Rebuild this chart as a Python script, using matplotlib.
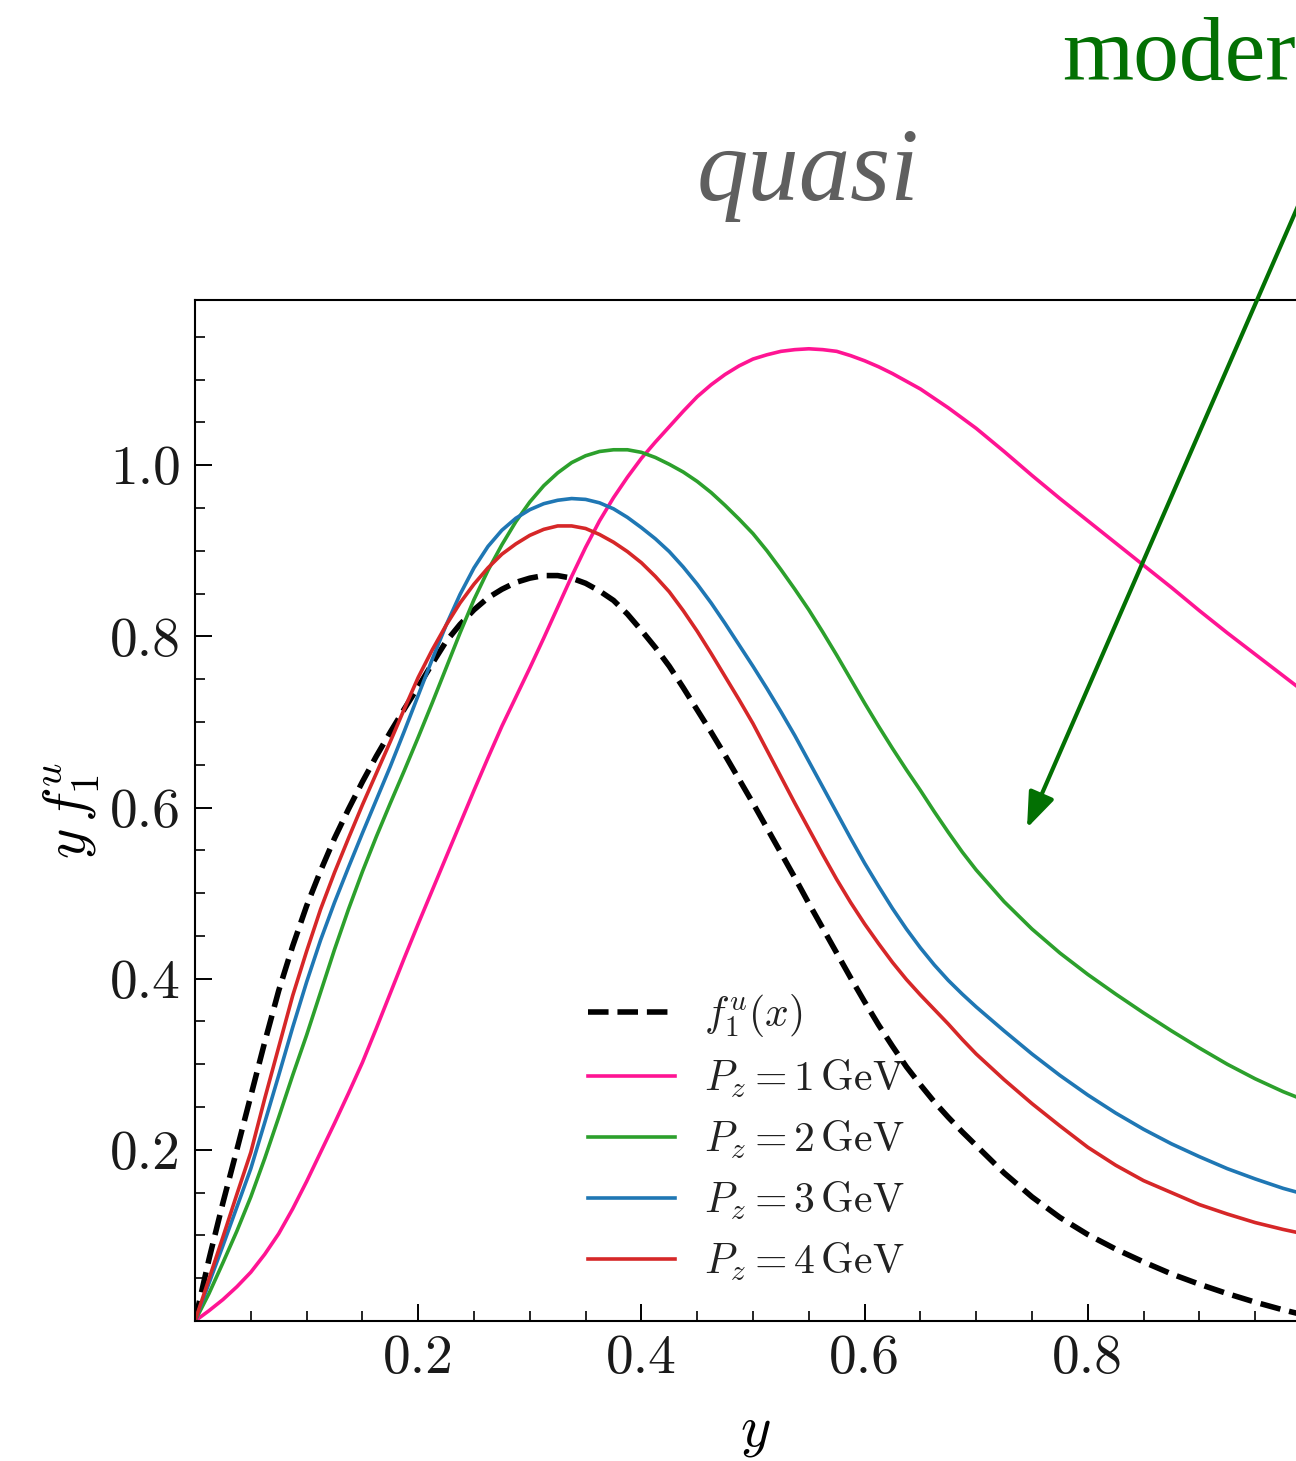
import numpy as np
import matplotlib
matplotlib.use('Agg')
import matplotlib.pyplot as plt
from matplotlib.ticker import MultipleLocator, FixedLocator, FormatStrFormatter

plt.rcParams['font.family'] = 'cmr10'
plt.rcParams['mathtext.fontset'] = 'cm'
plt.rcParams['axes.formatter.use_mathtext'] = True

# values
y_grid = [0.0, 0.0125, 0.025, 0.0375, 0.05, 0.0625, 0.075, 0.0875, 0.1, 0.1125,
          0.125, 0.1375, 0.15, 0.1625, 0.175, 0.1875, 0.2, 0.2125, 0.225, 0.2375,
          0.25, 0.2625, 0.275, 0.2875, 0.3, 0.3125, 0.325, 0.3375, 0.35, 0.3625,
          0.375, 0.3875, 0.4, 0.4125, 0.425, 0.4375, 0.45, 0.4625, 0.475, 0.4875,
          0.5, 0.5125, 0.525, 0.5375, 0.55, 0.5625, 0.575, 0.5875, 0.6, 0.6125,
          0.625, 0.6375, 0.65, 0.6625, 0.675, 0.6875, 0.7, 0.725, 0.75, 0.775,
          0.8, 0.825, 0.85, 0.875, 0.9, 0.925, 0.95, 0.975, 1.0]

f1u = [0.0, 0.072, 0.138, 0.200, 0.263, 0.326, 0.386, 0.438, 0.485, 0.526,
       0.564, 0.598, 0.630, 0.660, 0.688, 0.715, 0.741, 0.768, 0.794, 0.814,
       0.831, 0.845, 0.855, 0.863, 0.868, 0.871, 0.871, 0.868, 0.862, 0.853,
       0.842, 0.826, 0.807, 0.787, 0.765, 0.740, 0.714, 0.688, 0.661, 0.633,
       0.605, 0.576, 0.547, 0.518, 0.488, 0.459, 0.430, 0.401, 0.373, 0.346,
       0.321, 0.297, 0.276, 0.256, 0.238, 0.221, 0.205, 0.173, 0.145, 0.121,
       0.101, 0.084, 0.069, 0.055, 0.043, 0.032, 0.022, 0.013, 0.005]

pz1 = [0.0, 0.012, 0.025, 0.040, 0.057, 0.078, 0.102, 0.131, 0.163, 0.197,
       0.231, 0.266, 0.302, 0.342, 0.383, 0.424, 0.464, 0.503, 0.542, 0.581,
       0.620, 0.658, 0.695, 0.729, 0.763, 0.798, 0.834, 0.870, 0.904, 0.935,
       0.962, 0.986, 1.008, 1.027, 1.045, 1.063, 1.080, 1.094, 1.106, 1.116,
       1.124, 1.129, 1.133, 1.135, 1.136, 1.135, 1.133, 1.128, 1.122, 1.115,
       1.107, 1.098, 1.089, 1.078, 1.067, 1.055, 1.043, 1.016, 0.988, 0.961,
       0.935, 0.909, 0.883, 0.857, 0.830, 0.804, 0.779, 0.754, 0.729]

pz2 = [0.0, 0.032, 0.068, 0.105, 0.145, 0.190, 0.238, 0.287, 0.334, 0.384,
       0.434, 0.481, 0.525, 0.566, 0.605, 0.643, 0.682, 0.722, 0.763, 0.804,
       0.843, 0.877, 0.907, 0.934, 0.957, 0.976, 0.991, 1.003, 1.011, 1.016,
       1.018, 1.018, 1.015, 1.009, 1.001, 0.992, 0.981, 0.968, 0.953, 0.937,
       0.920, 0.900, 0.878, 0.855, 0.831, 0.805, 0.778, 0.750, 0.722, 0.695,
       0.669, 0.644, 0.620, 0.595, 0.571, 0.548, 0.527, 0.490, 0.458, 0.430,
       0.405, 0.382, 0.360, 0.339, 0.319, 0.300, 0.283, 0.268, 0.255]

pz3 = [0.0, 0.044, 0.088, 0.133, 0.178, 0.232, 0.287, 0.343, 0.396, 0.445,
       0.489, 0.530, 0.570, 0.609, 0.648, 0.689, 0.731, 0.773, 0.813, 0.849,
       0.880, 0.905, 0.924, 0.938, 0.948, 0.955, 0.959, 0.961, 0.960, 0.956,
       0.949, 0.939, 0.927, 0.914, 0.899, 0.881, 0.861, 0.839, 0.815, 0.790,
       0.765, 0.739, 0.712, 0.684, 0.654, 0.624, 0.594, 0.564, 0.535, 0.508,
       0.482, 0.458, 0.436, 0.416, 0.398, 0.382, 0.367, 0.339, 0.312, 0.287,
       0.264, 0.243, 0.224, 0.207, 0.192, 0.178, 0.166, 0.155, 0.146]

pz4 = [0.0, 0.049, 0.098, 0.148, 0.197, 0.260, 0.320, 0.380, 0.432, 0.481,
       0.524, 0.564, 0.603, 0.640, 0.677, 0.715, 0.752, 0.784, 0.813, 0.839,
       0.861, 0.880, 0.896, 0.908, 0.918, 0.925, 0.929, 0.929, 0.926, 0.919,
       0.910, 0.899, 0.886, 0.870, 0.852, 0.830, 0.806, 0.780, 0.753, 0.726,
       0.698, 0.667, 0.636, 0.605, 0.575, 0.545, 0.516, 0.489, 0.464, 0.441,
       0.419, 0.399, 0.381, 0.364, 0.347, 0.329, 0.312, 0.282, 0.254, 0.228,
       0.203, 0.182, 0.164, 0.150, 0.136, 0.125, 0.115, 0.107, 0.100]

labels = [r'$f_1^u(x)$', r'$P_z = 1\,\mathrm{GeV}$', r'$P_z = 2\,\mathrm{GeV}$',
          r'$P_z = 3\,\mathrm{GeV}$', r'$P_z = 4\,\mathrm{GeV}$']
colors = ['black', '#ff1493', '#2ca02c', '#1f77b4', '#d62728']

fig = plt.figure(figsize=(12.96, 14.61), dpi=100)
ax = fig.add_axes([195/1296, 140/1461, 1116/1296, 1021/1461])

ax.plot(y_grid, f1u, '--', color=colors[0], lw=4.0, label=labels[0])
ax.plot(y_grid, pz1, color=colors[1], lw=2.6, label=labels[1])
ax.plot(y_grid, pz2, color=colors[2], lw=2.6, label=labels[2])
ax.plot(y_grid, pz3, color=colors[3], lw=2.6, label=labels[3])
ax.plot(y_grid, pz4, color=colors[4], lw=2.6, label=labels[4])

ax.set_xlim(0, 1.0)
ax.set_ylim(0, 1.193)
ax.xaxis.set_major_locator(FixedLocator([0.2, 0.4, 0.6, 0.8]))
ax.yaxis.set_major_locator(FixedLocator([0.2, 0.4, 0.6, 0.8, 1.0]))
ax.xaxis.set_minor_locator(MultipleLocator(0.05))
ax.yaxis.set_minor_locator(MultipleLocator(0.05))
ax.xaxis.set_major_formatter(FormatStrFormatter('%.1f'))
ax.yaxis.set_major_formatter(FormatStrFormatter('%.1f'))
ax.tick_params(which='both', direction='in', top=False, right=False,
               labelsize=40, labelcolor='#1a1a1a', pad=10)
ax.tick_params(which='major', length=12, width=1.4)
ax.tick_params(which='minor', length=7, width=1.2)
for sp in ax.spines.values():
    sp.set_linewidth(1.5)

ax.set_xlabel(r'$y$', fontsize=42)
ax.xaxis.set_label_coords(0.502, -0.085)
ax.set_ylabel(r'$y\,f_1^u$', fontsize=42)
ax.yaxis.set_label_coords(-0.083, 0.5)

ax.legend(loc='upper left', bbox_to_anchor=(0.352, 0.322), frameon=False,
          fontsize=30, handlelength=2.1, handletextpad=0.7, labelspacing=0.45,
          borderpad=0, borderaxespad=0, labelcolor='#222222')

fig.text(697/1296, 1 - 200/1461, 'quasi', family='Liberation Serif',
         style='italic', fontsize=74, color='#5f5f5f', va='baseline')
fig.text(1062/1296, 1 - 80/1461, 'modern', family='Liberation Serif',
         fontsize=66, color='#037003', va='baseline')
fig.add_artist(plt.matplotlib.text.Annotation(
    '', xy=(1027/1296, 1 - 828/1461), xytext=(1305/1296, 1 - 190/1461),
    xycoords='figure fraction', textcoords='figure fraction',
    arrowprops=dict(arrowstyle='-|>,head_length=0.45,head_width=0.17',
                    mutation_scale=48, lw=3, color='#037003',
                    shrinkA=0, shrinkB=0),
    annotation_clip=False))

fig.savefig('out.png', dpi=100)
